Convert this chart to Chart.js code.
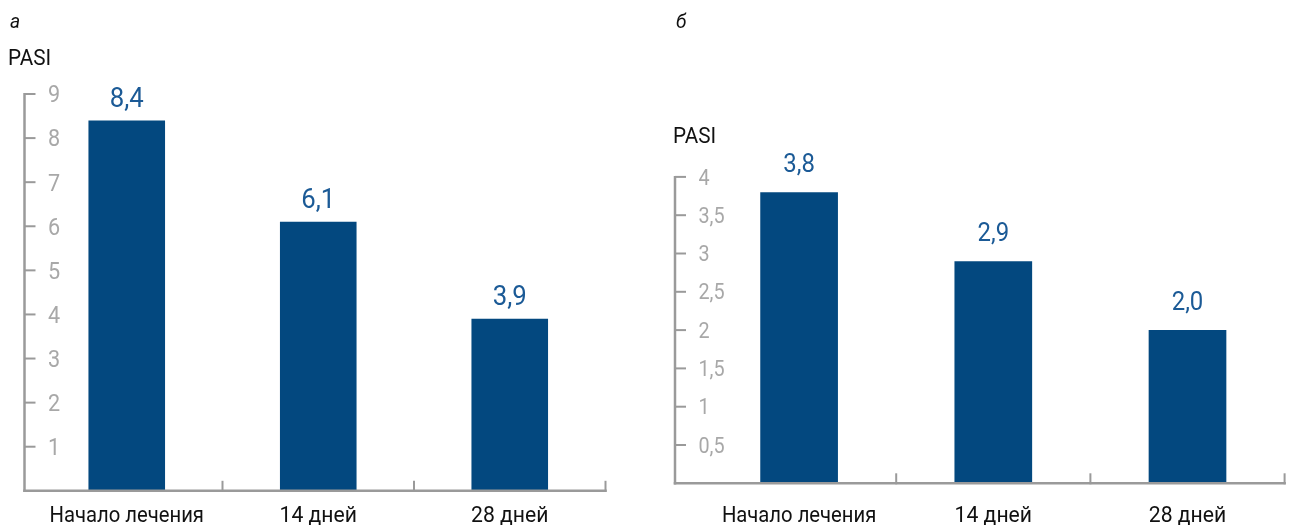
<!DOCTYPE html>
<html>
<head>
<meta charset="utf-8">
<script src="https://cdn.jsdelivr.net/npm/chart.js@4/dist/chart.umd.min.js"></script>
<style>
  html, body { margin: 0; padding: 0; background: #ffffff; }
  #wrap { position: relative; width: 1291px; height: 525px; overflow: hidden; }
  .panel { position: absolute; top: 0; height: 525px; }
</style>
</head>
<body>
<div id="wrap">
  <div class="panel" style="left:0;width:645px"><canvas id="chartA"></canvas></div>
  <div class="panel" style="left:645px;width:646px"><canvas id="chartB"></canvas></div>
</div>
<script>
// Categories and PASI values for both panels
const categories = ['Начало лечения', '14 дней', '28 дней'];
const pasiA = [8.4, 6.1, 3.9];
const pasiB = [3.8, 2.9, 2.0];
const ticksA = [1, 2, 3, 4, 5, 6, 7, 8, 9];
const ticksB = [0.5, 1, 1.5, 2, 2.5, 3, 3.5, 4];
const panelLetters = ['а', 'б'];
const unitLabel = 'PASI';

const BAR = '#03487f';
const VALUE = '#1b5a96';
const AXIS = '#9a9a9a';
const TICK_TEXT = '#a8a8a8';
const FONT = 'Roboto, "Noto Sans", sans-serif';
const CAP = 0.711;      // cap height of the font, in em
const NARROW = 0.92;    // horizontal squeeze for a condensed look

const fmt = (v, d) => (d == null ? String(v) : v.toFixed(d)).replace('.', ',');

// text drawn with a horizontal squeeze around its anchor point
function squeezed(ctx, text, x, y, sx) {
  ctx.save();
  ctx.translate(x, y);
  ctx.scale(sx, 1);
  ctx.fillText(text, 0, 0);
  ctx.restore();
}

// Draws the bracket-style axes, tick labels, category labels and value labels
const frame = {
  id: 'pasiFrame',
  afterDatasetsDraw(chart, args, o) {
    const ctx = chart.ctx;
    const area = chart.chartArea;
    const xs = chart.scales.x, ys = chart.scales.y;
    const y0 = ys.getPixelForValue(0);
    const ax = area.left - o.axisGap;
    const line = (x1, y1, x2, y2) => { ctx.beginPath(); ctx.moveTo(x1, y1); ctx.lineTo(x2, y2); ctx.stroke(); };

    ctx.save();
    ctx.strokeStyle = AXIS;
    ctx.lineWidth = 2.5;
    line(ax, ys.getPixelForValue(ys.max) - 1, ax, y0 + 1.25);
    line(ax - 1.25, y0, area.right + 1.25, y0);

    ctx.lineWidth = 2;
    o.ticks.forEach(v => { const py = ys.getPixelForValue(v); line(ax, py, ax + o.tickLen, py); });

    const n = chart.data.labels.length;
    for (let i = 0; i < n; i++) {
      const bx = i < n - 1 ? (xs.getPixelForValue(i) + xs.getPixelForValue(i + 1)) / 2 : area.right;
      line(bx, y0 + 1, bx, y0 - 10);
    }

    // y tick labels, inside the axis bracket
    ctx.fillStyle = TICK_TEXT;
    ctx.font = o.tickSize + 'px ' + FONT;
    ctx.textAlign = 'left';
    ctx.textBaseline = 'alphabetic';
    o.ticks.forEach(v => {
      const py = ys.getPixelForValue(v);
      squeezed(ctx, fmt(v), ax + o.labelGap, py + o.tickSize * CAP / 2, NARROW);
    });

    // category labels
    ctx.fillStyle = '#111111';
    ctx.font = o.catSize + 'px ' + FONT;
    ctx.textAlign = 'center';
    chart.data.labels.forEach((lab, i) => {
      squeezed(ctx, lab, xs.getPixelForValue(i), o.catBaseline, i === 0 ? 0.9 : 0.94);
    });

    // value labels above the bars
    ctx.fillStyle = VALUE;
    ctx.font = o.valueSize + 'px ' + FONT;
    const data = chart.data.datasets[0].data;
    data.forEach((v, i) => {
      squeezed(ctx, fmt(v, 1), xs.getPixelForValue(i), ys.getPixelForValue(v) - o.valueGap, NARROW);
    });

    // panel letter and unit
    ctx.fillStyle = '#111111';
    ctx.textAlign = 'left';
    ctx.font = 'italic ' + o.letterSize + 'px ' + FONT;
    squeezed(ctx, o.letter, o.letterX, o.letterBaseline, NARROW);
    ctx.font = o.unitSize + 'px ' + FONT;
    squeezed(ctx, unitLabel, o.unitX, o.unitBaseline, NARROW);
    ctx.restore();
  }
};

function makeChart(id, values, ticks, yMax, padding, frameOpts) {
  return new Chart(document.getElementById(id), {
    type: 'bar',
    data: {
      labels: categories,
      datasets: [{ data: values, backgroundColor: BAR, barPercentage: 0.8, categoryPercentage: 0.5 }]
    },
    options: {
      responsive: true,
      maintainAspectRatio: false,
      animation: false,
      layout: { padding },
      scales: {
        x: { display: false },
        y: { display: false, min: 0, max: yMax }
      },
      plugins: {
        legend: { display: false },
        tooltip: { enabled: false },
        pasiFrame: Object.assign({ ticks }, frameOpts)
      }
    },
    plugins: [frame]
  });
}

makeChart('chartA', pasiA, ticksA, 9,
  { left: 31, right: 39.5, top: 94, bottom: 34.2 },
  { axisGap: 6.5, tickLen: 11, labelGap: 23.5, tickSize: 23.5, catSize: 22.5,
    catBaseline: 522, valueSize: 28, valueGap: 13.5, letter: panelLetters[0], letterX: 10,
    letterBaseline: 28, letterSize: 21, unitSize: 22.5, unitX: 8, unitBaseline: 65 });

makeChart('chartB', pasiB, ticksB, 4,
  { left: 57, right: 6.4, top: 176.9, bottom: 41.7 },
  { axisGap: 27, tickLen: 11, labelGap: 23.5, tickSize: 21.5, catSize: 22.5,
    catBaseline: 522, valueSize: 26, valueGap: 20, letter: panelLetters[1], letterX: 31,
    letterBaseline: 28, letterSize: 21, unitSize: 22.5, unitX: 28, unitBaseline: 143 });
</script>
</body>
</html>
